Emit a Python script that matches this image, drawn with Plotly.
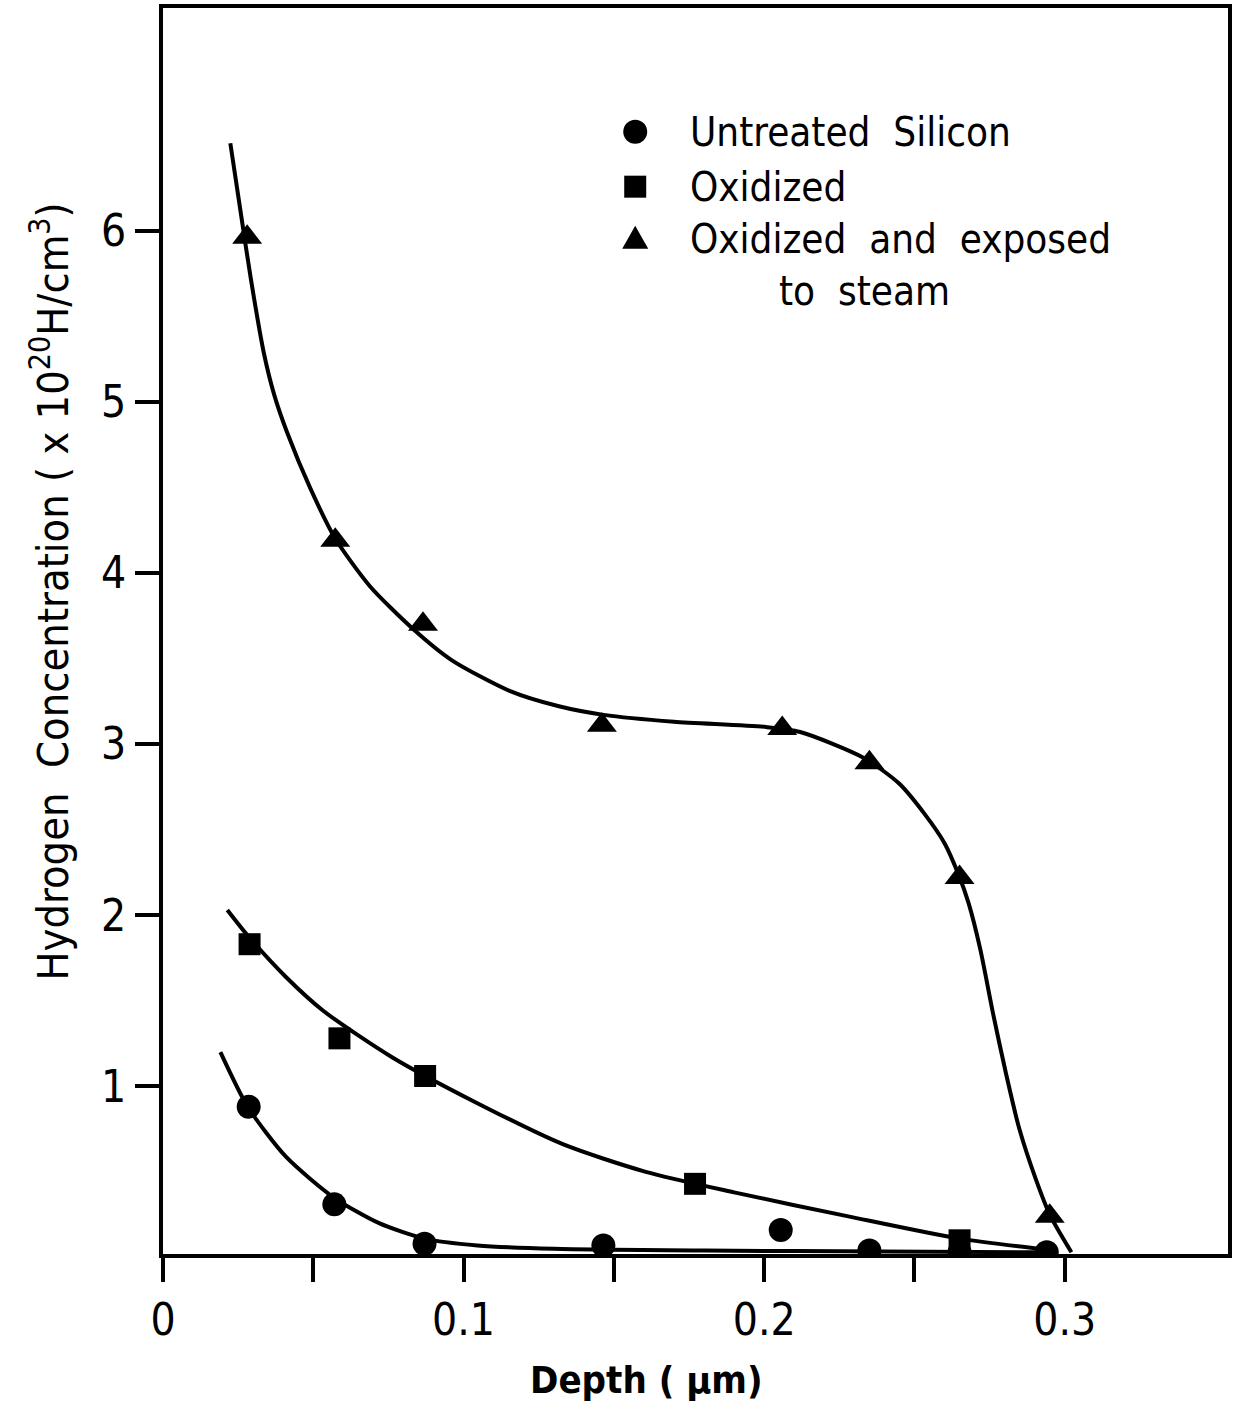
import plotly.graph_objects as go

# Measured depth profiles (depth in µm, concentration in 1e20 H/cm^3)
untreated_x = [0.0285, 0.057, 0.087, 0.1465, 0.2055, 0.235, 0.265, 0.294]
untreated_y = [0.88, 0.31, 0.08, 0.07, 0.16, 0.04, 0.03, 0.03]

oxidized_x = [0.0288, 0.0587, 0.0872, 0.177, 0.265]
oxidized_y = [1.83, 1.28, 1.06, 0.43, 0.10]

steam_x = [0.028, 0.0573, 0.0865, 0.146, 0.206, 0.235, 0.265, 0.295]
steam_y = [5.96, 4.19, 3.70, 3.11, 3.09, 2.89, 2.22, 0.24]

# Hand-fitted trend curves through each data set
untreated_fit_x = [0.0191, 0.0282, 0.0408, 0.0568, 0.0719, 0.087, 0.1046, 0.130, 0.180, 0.240, 0.294]
untreated_fit_y = [1.20, 0.88, 0.59, 0.35, 0.20, 0.11, 0.07, 0.05, 0.04, 0.035, 0.03]

oxidized_fit_x = [0.0214, 0.0282, 0.0408, 0.0534, 0.0762, 0.1036, 0.1332, 0.1606, 0.190, 0.228, 0.265, 0.297]
oxidized_fit_y = [2.03, 1.88, 1.64, 1.44, 1.17, 0.91, 0.66, 0.50, 0.38, 0.24, 0.11, 0.04]

steam_fit_x = [0.0224, 0.0259, 0.0292, 0.0336, 0.037, 0.0413, 0.0491, 0.0573, 0.0689, 0.0833, 0.096,
               0.1153, 0.1317, 0.1466, 0.170, 0.2002, 0.212, 0.233, 0.2448, 0.2534, 0.260,
               0.2648, 0.268, 0.2719, 0.2762, 0.2805, 0.2849, 0.2903, 0.295, 0.3022]
steam_fit_y = [6.51, 6.10, 5.72, 5.28, 5.04, 4.82, 4.49, 4.20, 3.92, 3.67, 3.49,
               3.31, 3.22, 3.17, 3.13, 3.10, 3.07, 2.92, 2.77, 2.59, 2.42,
               2.23, 2.07, 1.80, 1.42, 1.07, 0.75, 0.46, 0.25, 0.03]

x_ticks = [0, 0.05, 0.1, 0.15, 0.2, 0.25, 0.3]
x_tick_text = ["0", "", "0.1", "", "0.2", "", "0.3"]
y_ticks = [1, 2, 3, 4, 5, 6]
y_tick_text = ["1", "2", "3", "4", "5", "6"]

legend_labels = ["Untreated\u00a0\u00a0Silicon", "Oxidized", "Oxidized\u00a0\u00a0and\u00a0\u00a0exposed"]
legend_extra = "to\u00a0\u00a0steam"

FONT = "DejaVu Sans Condensed, DejaVu Sans, sans-serif"
INK = "#000000"

fig = go.Figure()

for fx, fy in [(untreated_fit_x, untreated_fit_y),
               (oxidized_fit_x, oxidized_fit_y),
               (steam_fit_x, steam_fit_y)]:
    fig.add_trace(go.Scatter(x=fx, y=fy, mode="lines",
                             line=dict(color=INK, width=4, shape="spline", smoothing=0.7),
                             showlegend=False, hoverinfo="skip"))

fig.add_trace(go.Scatter(x=untreated_x, y=untreated_y, mode="markers", name=legend_labels[0],
                         showlegend=False, marker=dict(symbol="circle", size=24, color=INK)))
fig.add_trace(go.Scatter(x=oxidized_x, y=oxidized_y, mode="markers", name=legend_labels[1],
                         showlegend=False, marker=dict(symbol="square", size=22, color=INK)))
fig.add_trace(go.Scatter(x=steam_x, y=steam_y, mode="markers", name=legend_labels[2],
                         showlegend=False, marker=dict(symbol="triangle-up", size=26, color=INK)))

axis_common = dict(showline=True, linewidth=4, linecolor=INK, mirror=True, ticks="outside",
                   ticklen=24, tickwidth=4, tickcolor=INK, showgrid=False, zeroline=False,
                   tickfont=dict(family=FONT, size=44, color=INK))

# Key drawn in paper space: symbols as pixel-sized shapes, labels as annotations
key_x = 0.4434
key_rows = [0.9006, 0.8566, 0.8149]
shapes = [
    dict(type="circle", xref="paper", yref="paper", xsizemode="pixel", ysizemode="pixel",
         xanchor=key_x, yanchor=key_rows[0], x0=-12, x1=12, y0=-12, y1=12,
         fillcolor=INK, line=dict(width=0)),
    dict(type="rect", xref="paper", yref="paper", xsizemode="pixel", ysizemode="pixel",
         xanchor=key_x, yanchor=key_rows[1], x0=-11, x1=11, y0=-11, y1=11,
         fillcolor=INK, line=dict(width=0)),
    dict(type="path", xref="paper", yref="paper", xsizemode="pixel", ysizemode="pixel",
         xanchor=key_x, yanchor=key_rows[2], path="M -13 -10 L 13 -10 L 0 13 Z",
         fillcolor=INK, line=dict(width=0)),
]

annotations = [
    dict(text=lbl, xref="paper", yref="paper", x=0.493, y=yy, xanchor="left", yanchor="middle",
         showarrow=False, font=dict(family=FONT, size=40, color=INK))
    for lbl, yy in zip(legend_labels, key_rows)
]
annotations.append(dict(text=legend_extra, xref="paper", yref="paper", x=0.659, y=0.773,
                        xanchor="center", yanchor="middle", showarrow=False,
                        font=dict(family=FONT, size=40, color=INK)))
annotations.append(dict(text="Hydrogen\u00a0\u00a0Concentration\u00a0(\u00a0x\u00a010<sup>20</sup>H/cm<sup>3</sup>)",
                        xref="paper", yref="paper", x=-0.1057, y=0.532, textangle=-90, showarrow=False,
                        xanchor="center", yanchor="middle", font=dict(family=FONT, size=43, color=INK)))
annotations.append(dict(text="<b>Depth\u00a0(\u00a0\u03bcm)</b>", xref="paper", yref="paper", x=0.454, y=-0.101,
                        showarrow=False, xanchor="center", yanchor="middle",
                        font=dict(family=FONT, size=38, color=INK)))

fig.update_layout(
    width=1236, height=1410,
    margin=dict(l=163, r=4, t=6, b=156),
    paper_bgcolor="white", plot_bgcolor="white",
    xaxis=dict(range=[0, 0.3543], tickmode="array", tickvals=x_ticks, ticktext=x_tick_text, **axis_common),
    yaxis=dict(range=[0.02, 7.30], tickmode="array", tickvals=y_ticks, ticktext=y_tick_text, **axis_common),
    shapes=shapes,
    annotations=annotations,
    showlegend=False,
)

fig.write_html("out.html")
